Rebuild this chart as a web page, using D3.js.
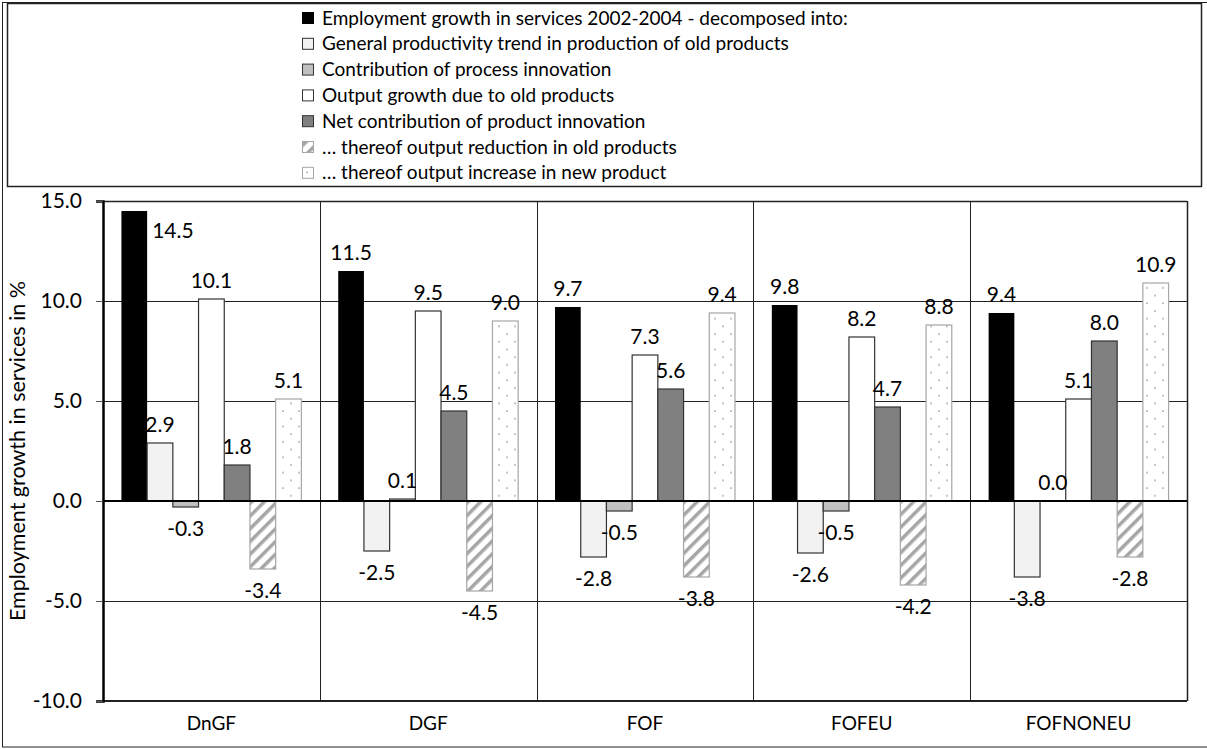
<!DOCTYPE html>
<html><head><meta charset="utf-8">
<script src="https://cdn.jsdelivr.net/npm/d3@7"></script>
<style>body{margin:0;background:#fff}svg{display:block}text{font-family:Lato,"Open Sans",sans-serif;fill:#000}</style>
</head><body><svg id="c" width="1207" height="749"></svg>
<script>
const categories = ["DnGF","DGF","FOF","FOFEU","FOFNONEU"];
const seriesNames = [
  "Employment growth in services 2002-2004 - decomposed into:",
  "General productivity trend in production of old products",
  "Contribution of process innovation",
  "Output growth due to old products",
  "Net contribution of product innovation",
  "\u2026 thereof output reduction in old products",
  "\u2026 thereof output increase in new product"
];
const empGrowth   = [14.5, 11.5, 9.7, 9.8, 9.4];
const prodTrend   = [2.9, -2.5, -2.8, -2.6, -3.8];
const processInn  = [-0.3, 0.1, -0.5, -0.5, 0.0];
const outputOld   = [10.1, 9.5, 7.3, 8.2, 5.1];
const netProduct  = [1.8, 4.5, 5.6, 4.7, 8.0];
const outputRed   = [-3.4, -4.5, -3.8, -4.2, -2.8];
const outputNew   = [5.1, 9.0, 9.4, 8.8, 10.9];
const yTicks = [-10, -5, 0, 5, 10, 15];
const yLabel = "Employment growth in services in %";

const seriesValues = [empGrowth, prodTrend, processInn, outputOld, netProduct, outputRed, outputNew];
const fills = ["#000000", "#f2f2f2", "#c0c0c0", "#ffffff", "#808080", "url(#hatch)", "url(#dots)"];
const strokes = ["none", "#333", "#333", "#333", "#333", "#a6a6a6", "#a6a6a6"];

const svg = d3.select("#c");
const defs = svg.append("defs");
const hp = defs.append("pattern").attr("id","hatch").attr("patternUnits","userSpaceOnUse")
  .attr("width",9).attr("height",9).attr("patternTransform","rotate(45)");
hp.append("rect").attr("width",9).attr("height",9).attr("fill","#fff");
hp.append("rect").attr("x",0).attr("width",3.5).attr("height",9).attr("fill","#a6a6a6");
const dp = defs.append("pattern").attr("id","dots").attr("patternUnits","userSpaceOnUse")
  .attr("width",16).attr("height",15.4);
dp.append("rect").attr("width",16).attr("height",15.4).attr("fill","#fff");
dp.append("circle").attr("cx",3).attr("cy",3).attr("r",0.9).attr("fill","#999");
dp.append("circle").attr("cx",11).attr("cy",10.7).attr("r",0.9).attr("fill","#999");

// outer frame
svg.append("rect").attr("x",2.5).attr("y",2.5).attr("width",1220).attr("height",744.5)
  .attr("fill","none").attr("stroke","#222").attr("stroke-width",1);

// legend
const lg = svg.append("g");
lg.append("rect").attr("x",7.5).attr("y",3.5).attr("width",1194).attr("height",183)
  .attr("fill","#fff").attr("stroke","#222").attr("stroke-width",1.5);
seriesNames.forEach((n,i)=>{
  const yy = 18 + i*25.8;
  lg.append("rect").attr("x",302.5).attr("y",yy-5.5).attr("width",11).attr("height",11)
    .attr("fill",fills[i]).attr("stroke", i===0?"#000":strokes[i]).attr("stroke-width",1);
  lg.append("text").attr("x",322).attr("y",yy).attr("dy","0.35em").attr("font-size",19).text(n);
});

const pLeft = 103, pRight = 1187, pTop = 201, pBottom = 701;
const y = d3.scaleLinear().domain([-10,15]).range([pBottom, pTop]);
const x0 = d3.scaleBand().domain(categories).range([pLeft,pRight]).paddingInner(0.17).paddingOuter(0.085);
const x1 = d3.scaleBand().domain(d3.range(seriesNames.length)).range([0, x0.bandwidth()]);
const step = x0.step();

// horizontal gridlines
svg.append("g").selectAll("line").data(yTicks.filter(t=>t!==0 && t!==-10)).join("line")
  .attr("x1",pLeft).attr("x2",pRight).attr("y1",d=>Math.round(y(d))+0.5).attr("y2",d=>Math.round(y(d))+0.5)
  .attr("stroke","#222").attr("stroke-width",1);
// vertical category lines
const bounds = categories.map(c=>x0(c) - step*0.085).concat([pRight]);
svg.append("g").selectAll("line").data(bounds.slice(1)).join("line")
  .attr("x1",d=>Math.round(d)+0.5).attr("x2",d=>Math.round(d)+0.5).attr("y1",pTop).attr("y2",pBottom)
  .attr("stroke","#222").attr("stroke-width",1);

// bars
const data = [];
categories.forEach((c,ci)=>seriesValues.forEach((arr,si)=>data.push({c,si,v:arr[ci]})));
svg.append("g").selectAll("rect").data(data).join("rect")
  .attr("x",d=>x0(d.c)+x1(d.si)).attr("width",x1.bandwidth())
  .attr("y",d=>y(Math.max(0,d.v))).attr("height",d=>Math.abs(y(d.v)-y(0)))
  .attr("fill",d=>fills[d.si]).attr("stroke",d=>strokes[d.si]).attr("stroke-width",1.2);

// labels
const tooHigh = d => y(d.v)-18 < pTop+12;
svg.append("g").selectAll("text").data(data).join("text")
  .attr("font-size",21)
  .attr("text-anchor",d=> tooHigh(d) ? "start" : "middle")
  .attr("x",d=>{
    const bx = x0(d.c)+x1(d.si);
    return tooHigh(d) ? bx + x1.bandwidth() + 5 : bx + x1.bandwidth()/2;
  })
  .attr("y",d=>{
    if (tooHigh(d)) return y(d.v)+20;
    return d.v >= 0 ? y(d.v)-18 : y(d.v)+22;
  })
  .attr("dy","0.35em")
  .text(d=>d.v.toFixed(1));

// axes lines
svg.append("line").attr("x1",pLeft).attr("x2",pRight).attr("y1",y(0)).attr("y2",y(0)).attr("stroke","#000").attr("stroke-width",2);
svg.append("line").attr("x1",pLeft).attr("x2",pRight).attr("y1",pBottom).attr("y2",pBottom).attr("stroke","#222").attr("stroke-width",2);
svg.append("line").attr("x1",pLeft).attr("x2",pRight).attr("y1",pTop+0.5).attr("y2",pTop+0.5).attr("stroke","#222").attr("stroke-width",1.5);
svg.append("line").attr("x1",pRight+0.5).attr("x2",pRight+0.5).attr("y1",pTop).attr("y2",pBottom).attr("stroke","#222").attr("stroke-width",1.5);

const yAxis = svg.append("g").attr("transform",`translate(${pLeft},0)`)
  .call(d3.axisLeft(y).tickValues(yTicks).tickFormat(d=>d.toFixed(1)).tickSize(7).tickPadding(14));
yAxis.select(".domain").attr("stroke","#000").attr("stroke-width",2.5);
yAxis.selectAll(".tick line").attr("stroke","#555");
yAxis.selectAll("text").attr("font-size",21).attr("font-family","Lato");

svg.append("g").selectAll("text").data(categories).join("text")
  .attr("x",d=>x0(d)+x0.bandwidth()/2).attr("y",723).attr("dy","0.35em")
  .attr("text-anchor","middle").attr("font-size",19).text(d=>d);

svg.append("text").attr("transform",`translate(17,${(pTop+pBottom)/2}) rotate(-90)`)
  .attr("text-anchor","middle").attr("dy","0.35em").attr("font-size",21.5).text(yLabel);
</script></body></html>
